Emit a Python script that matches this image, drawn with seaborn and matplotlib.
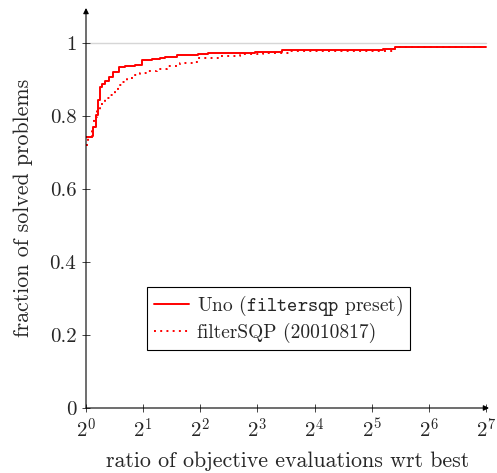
import matplotlib
matplotlib.use("Agg")
import matplotlib.pyplot as plt
import pandas as pd
import seaborn as sns

# Performance profile data (ratio wrt best, fraction of solved problems)
uno_ratio = [1.0, 1.069, 1.093, 1.129, 1.157, 1.192, 1.214, 1.259, 1.317, 1.393,
             1.487, 1.611, 1.819, 1.965, 2.227, 2.454, 2.607, 3.005, 3.905, 4.408,
             7.77, 10.74, 36.7, 42.5, 128.0]
uno_frac = [0.743, 0.745, 0.77, 0.803, 0.844, 0.88, 0.889, 0.897, 0.908, 0.921,
            0.933, 0.937, 0.94, 0.953, 0.955, 0.958, 0.962, 0.967, 0.97, 0.973,
            0.976, 0.981, 0.983, 0.988, 0.988]

filter_ratio = [1.0, 1.028, 1.072, 1.102, 1.139, 1.185, 1.259, 1.338, 1.422, 1.48,
                1.542, 1.638, 1.775, 1.925, 2.088, 2.358, 2.662, 3.128, 3.675, 3.891,
                4.323, 5.08, 6.476, 8.59, 11.88, 42.5, 128.0]
filter_frac = [0.72, 0.743, 0.77, 0.796, 0.816, 0.833, 0.849, 0.858, 0.871, 0.885,
               0.894, 0.903, 0.912, 0.919, 0.924, 0.93, 0.937, 0.944, 0.949, 0.958,
               0.96, 0.964, 0.97, 0.973, 0.979, 0.988, 0.988]

x_ticks = [2 ** k for k in range(8)]
x_tick_labels = [rf"$2^{{{k}}}$" for k in range(8)]
y_ticks = [0, 0.2, 0.4, 0.6, 0.8, 1]
y_tick_labels = ["0", "0.2", "0.4", "0.6", "0.8", "1"]

uno_label = r"Uno ($\mathtt{filtersqp}$ preset)"
filter_label = "filterSQP (20010817)"

sns.set_style("ticks")
plt.rcParams["font.family"] = ["cmr10", "DejaVu Serif"]
plt.rcParams["mathtext.fontset"] = "cm"
plt.rcParams["axes.unicode_minus"] = False

uno_df = pd.DataFrame({"ratio": uno_ratio, "frac": uno_frac})
filter_df = pd.DataFrame({"ratio": filter_ratio, "frac": filter_frac})

fig = plt.figure(figsize=(4.97, 4.73), dpi=100)
ax = fig.add_axes([86 / 497, 1 - 408 / 473, (489 - 86) / 497, (408 - 8) / 473])

ax.axhline(1, color="#d6d6d6", lw=1.0, zorder=0, xmax=(486 - 86) / (489 - 86))

sns.lineplot(data=uno_df, x="ratio", y="frac", ax=ax, color="red", lw=1.4,
             drawstyle="steps-post", label=uno_label, sort=True)
sns.lineplot(data=filter_df, x="ratio", y="frac", ax=ax, color="red", lw=1.4,
             linestyle=(0, (1, 2.2)), drawstyle="steps-post", label=filter_label,
             sort=True)

ax.set_xscale("log", base=2)
ax.set_xlim(1, 2 ** (7 + 3 / 57.14))
ax.set_ylim(0, 400 / 365)
ax.set_xticks(x_ticks)
ax.set_xticklabels(x_tick_labels)
ax.set_yticks(y_ticks)
ax.set_yticklabels(y_tick_labels)
ax.minorticks_off()
ax.tick_params(direction="inout", length=6, width=0.6, labelsize=15, pad=4)

for s in ax.spines.values():
    s.set_visible(False)
arrow = dict(arrowstyle="-|>", lw=0.8, color="black", mutation_scale=8,
             shrinkA=0, shrinkB=0)
ax.annotate("", xy=(1, 0), xytext=(0, 0), xycoords="axes fraction",
            arrowprops=arrow, annotation_clip=False)
ax.annotate("", xy=(0, 1), xytext=(0, 0), xycoords="axes fraction",
            arrowprops=arrow, annotation_clip=False)

ax.set_xlabel("ratio of objective evaluations wrt best", fontsize=15.8, labelpad=7)
ax.set_ylabel("fraction of solved problems", fontsize=15.8, labelpad=12)

leg = ax.legend(loc="center", bbox_to_anchor=(0.478, 0.224), fontsize=14,
                frameon=True, fancybox=False, framealpha=1, edgecolor="black",
                handlelength=1.8, handletextpad=0.4, borderpad=0.35,
                borderaxespad=0, labelspacing=0.25)
leg.get_frame().set_linewidth(0.8)

fig.savefig("out.png", dpi=100)
